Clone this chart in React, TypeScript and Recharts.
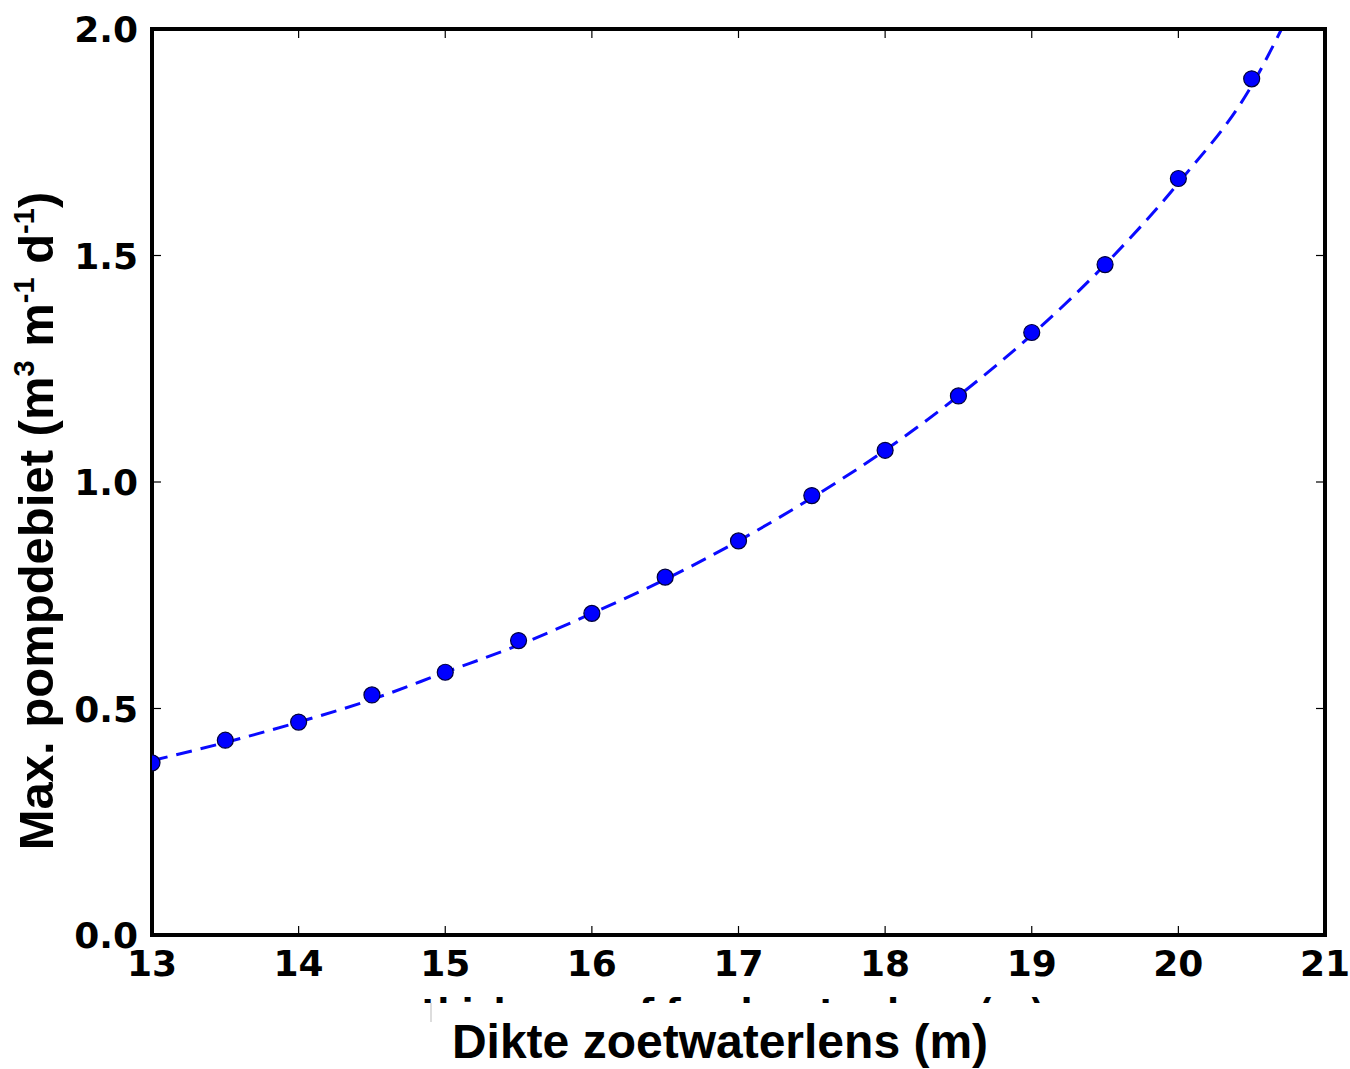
import React from "react";
import { ComposedChart, Line, Scatter, XAxis, YAxis } from "recharts";

// thickness of freshwater lens (m)
const thickness = [13, 13.5, 14, 14.5, 15, 15.5, 16, 16.5, 17, 17.5, 18, 18.5, 19, 19.5, 20, 20.5];
// max pumping rate (m3 m-1 d-1)
const maxRate = [0.38, 0.43, 0.47, 0.53, 0.58, 0.65, 0.71, 0.79, 0.87, 0.97, 1.07, 1.19, 1.33, 1.48, 1.67, 1.89];

// dashed fitted curve
const fitThickness = [13, 13.5, 14, 14.5, 15, 15.5, 16, 16.5, 17, 17.5, 18, 18.5, 19, 19.5, 20, 20.5, 20.75];
const fitRate = [0.385, 0.425, 0.47, 0.52, 0.58, 0.64, 0.71, 0.785, 0.87, 0.965, 1.07, 1.19, 1.325, 1.48, 1.66, 1.875, 2.03];

const xTicks = [13, 14, 15, 16, 17, 18, 19, 20, 21];
const yTicks = [0, 0.5, 1.0, 1.5, 2.0];

const points = thickness.map((x, i) => ({ x, y: maxRate[i] }));
const fit = fitThickness.map((x, i) => ({ x, y: fitRate[i] }));

const TICK_FONT = "'DejaVu Sans', sans-serif";
const LABEL_FONT = "'Liberation Sans', Arial, sans-serif";
const TICK_LEN = 9;
const frameLine = { stroke: "#000", strokeWidth: 4, strokeLinecap: "square" as const };

const BottomTick = ({ x, y, payload }: any) => (
  <g>
    <line x1={x} x2={x} y1={y} y2={y - TICK_LEN} stroke="#000" strokeWidth={1.2} />
    <text x={x} y={y + 41} textAnchor="middle" fontFamily={TICK_FONT} fontWeight="bold" fontSize={36} fill="#000">
      {payload.value}
    </text>
  </g>
);

const TopTick = ({ x, y }: any) => (
  <line x1={x} x2={x} y1={y} y2={y + TICK_LEN} stroke="#000" strokeWidth={1.2} />
);

const LeftTick = ({ x, y, payload }: any) => (
  <g>
    <line x1={x} x2={x + TICK_LEN} y1={y} y2={y} stroke="#000" strokeWidth={1.2} />
    <text x={x - 14} y={y + 13} textAnchor="end" fontFamily={TICK_FONT} fontWeight="bold" fontSize={36} fill="#000">
      {Number(payload.value).toFixed(1)}
    </text>
  </g>
);

const RightTick = ({ x, y }: any) => (
  <line x1={x} x2={x - TICK_LEN} y1={y} y2={y} stroke="#000" strokeWidth={1.2} />
);

const Dot = (p: any) => (
  <circle cx={p.cx} cy={p.cy} r={8} fill="#0000ff" stroke="#00003a" strokeWidth={1.2} />
);

export default function App() {
  return (
    <div style={{ position: "absolute", left: 0, top: 0, width: 1350, height: 1069, background: "#fff" }}>
      <ComposedChart width={1350} height={1069} margin={{ top: 28, right: 24, left: 0, bottom: 0 }}>
        <XAxis
          dataKey="x"
          type="number"
          domain={[13, 21]}
          ticks={xTicks}
          interval={0}
          allowDataOverflow
          height={134}
          tickSize={0}
          tickMargin={0}
          tickLine={false}
          axisLine={frameLine}
          tick={<BottomTick />}
        />
        <XAxis
          xAxisId="top"
          orientation="top"
          dataKey="x"
          type="number"
          domain={[13, 21]}
          ticks={xTicks}
          interval={0}
          allowDataOverflow
          height={1}
          tickSize={0}
          tickMargin={0}
          tickLine={false}
          axisLine={frameLine}
          tick={<TopTick />}
        />
        <YAxis
          type="number"
          domain={[0, 2]}
          ticks={yTicks}
          interval={0}
          allowDataOverflow
          width={152}
          tickSize={0}
          tickMargin={0}
          tickLine={false}
          axisLine={frameLine}
          tick={<LeftTick />}
        />
        <YAxis
          yAxisId="right"
          orientation="right"
          type="number"
          domain={[0, 2]}
          ticks={yTicks}
          interval={0}
          allowDataOverflow
          width={1}
          tickSize={0}
          tickMargin={0}
          tickLine={false}
          axisLine={frameLine}
          tick={<RightTick />}
        />
        {/* invisible series bound to the top and right frame axes */}
        <Line
          xAxisId="top"
          yAxisId="right"
          data={points}
          dataKey="y"
          stroke="none"
          dot={false}
          activeDot={false}
          isAnimationActive={false}
        />
        <Line
          data={fit}
          dataKey="y"
          type="monotone"
          stroke="#0a0aff"
          strokeWidth={3}
          strokeDasharray="16 9"
          dot={false}
          activeDot={false}
          isAnimationActive={false}
        />
        <Scatter data={points} dataKey="y" shape={<Dot />} isAnimationActive={false} />
      </ComposedChart>
      <svg
        width={1350}
        height={1069}
        style={{ position: "absolute", left: 0, top: 0, pointerEvents: "none" }}
      >
        <defs>
          <clipPath id="hiddenLabel">
            <rect x={420} y={985} width={640} height={18} />
          </clipPath>
        </defs>
        <text
          x={733}
          y={1023}
          textAnchor="middle"
          fontFamily={TICK_FONT}
          fontWeight="bold"
          fontSize={34}
          fill="#000"
          clipPath="url(#hiddenLabel)"
        >
          thickness of freshwater lens (m)
        </text>
        <line x1={431} x2={431} y1={1003} y2={1022} stroke="#bbb" strokeWidth={1} />
        <text x={720} y={1058} textAnchor="middle" fontFamily={LABEL_FONT} fontWeight="bold" fontSize={48} fill="#000">
          Dikte zoetwaterlens (m)
        </text>
        <text
          x={53}
          y={521}
          transform="rotate(-90 53 521)"
          textAnchor="middle"
          fontFamily={LABEL_FONT}
          fontWeight="bold"
          fontSize={49}
          fill="#000"
        >
          Max. pompdebiet (m
          <tspan fontSize={29} dy={-19}>3</tspan>
          <tspan dy={19}> m</tspan>
          <tspan fontSize={29} dy={-19}>-1</tspan>
          <tspan dy={19}> d</tspan>
          <tspan fontSize={29} dy={-19}>-1</tspan>
          <tspan dy={19}>)</tspan>
        </text>
      </svg>
    </div>
  );
}
